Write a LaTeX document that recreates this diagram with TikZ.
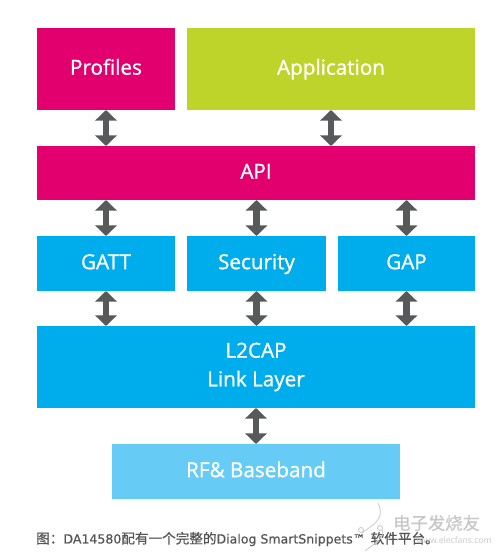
\documentclass[tikz,border=0pt]{standalone}
\usepackage{fontspec}
\setmainfont{Open Sans}
\newfontfamily\labelfont{Open Sans}[FakeBold=1.0]
\newfontfamily\capfont{DejaVu Sans}[FakeBold=0.5]
\newfontfamily\cjk{Noto Sans CJK SC}[FakeBold=0.7]
\usetikzlibrary{arrows.meta}
\definecolor{mag}{HTML}{E2006F}
\definecolor{lime}{HTML}{BFD42B}
\definecolor{cy}{HTML}{00ADEC}
\definecolor{pale}{HTML}{66CCF5}
\definecolor{arrowgray}{HTML}{58595B}
\definecolor{captiongray}{HTML}{555555}
\definecolor{markgray}{HTML}{C8C8C8}
\tikzset{
  layerbox/.style={anchor=north west,inner sep=0pt,outer sep=0pt,minimum width=#1,text=white,font=\labelfont\fontsize{15.5}{21.5}\selectfont,align=center},
  oneline/.style={text height=11.5pt,text depth=3pt},
  dblarrow/.style={draw=arrowgray,line width=5.2pt,{Triangle[length=8pt,width=16pt]}-{Triangle[length=8pt,width=16pt]}},
}
\begin{document}
\begin{tikzpicture}[x=0.75pt,y=-0.75pt]
\useasboundingbox (0,0) rectangle (500,556);
\fill[white] (0,0) rectangle (500,556);
\node[layerbox=103.5pt,oneline,fill=mag,minimum height=61.5pt] (profiles) at (37,28) {Profiles};
\node[layerbox=216pt,oneline,fill=lime,minimum height=61.5pt] (application) at (187,28) {Application};
\node[layerbox=328.5pt,oneline,fill=mag,minimum height=40.5pt] (api) at (37,146) {API};
\node[layerbox=103.5pt,oneline,fill=cy,minimum height=41.25pt] (gatt) at (37,236) {GATT};
\node[layerbox=104.25pt,oneline,fill=cy,minimum height=41.25pt] (security) at (187,236) {Security};
\node[layerbox=102.75pt,oneline,fill=cy,minimum height=41.25pt] (gap) at (338,236) {GAP};
\node[layerbox=328.5pt,fill=cy,minimum height=61.5pt] (link) at (37,326) {L2CAP\\Link Layer};
\node[layerbox=216pt,oneline,fill=pale,minimum height=41.25pt] (rf) at (112,444) {RF\& Baseband};

\draw[dblarrow] (profiles.south) -- (api.north -| profiles.south);
\draw[dblarrow] (application.south -| 331,0) -- (api.north -| 331,0);
\draw[dblarrow] (api.south -| gatt.south) -- (gatt.north);
\draw[dblarrow] (api.south -| security.south) -- (security.north);
\draw[dblarrow] (api.south -| gap.south) -- (gap.north);
\draw[dblarrow] (gatt.south) -- (link.north -| gatt.south);
\draw[dblarrow] (security.south) -- (link.north -| security.south);
\draw[dblarrow] (gap.south) -- (link.north -| gap.south);
\draw[dblarrow] (link.south -| rf.north) -- (rf.north);

\node[anchor=west,inner sep=0pt,text=captiongray,font=\capfont\fontsize{9.4}{11}\selectfont] (caption) at (36,539) {{\cjk\fontsize{10.2}{11}\selectfont 图：}DA14580{\cjk\fontsize{10.2}{11}\selectfont 配有一个完整的}Dialog SmartSnippets™\hspace{4pt}{\cjk\fontsize{10.2}{11}\selectfont 软件平台。}};
\node[anchor=west,inner sep=0pt,text=markgray,font=\cjk\fontsize{13}{15}\selectfont] (markcn) at (393,523) {电子发烧友};
\node[anchor=east,inner sep=0pt,text=markgray,font=\fontsize{6.5}{8}\selectfont] (markurl) at (492,540) {www.elecfans.com};
\draw[markgray,line width=0.6pt] (378,503) .. controls (386,520) and (372,525) .. (362,533);
\draw[markgray,line width=0.6pt] (361,530) circle (2.5);
\draw[markgray,line width=0.6pt] (380,528) circle (2.5);
\draw[markgray,line width=0.6pt] (382,530) .. controls (386,538) and (372,545) .. (365,551);
\end{tikzpicture}
\end{document}
